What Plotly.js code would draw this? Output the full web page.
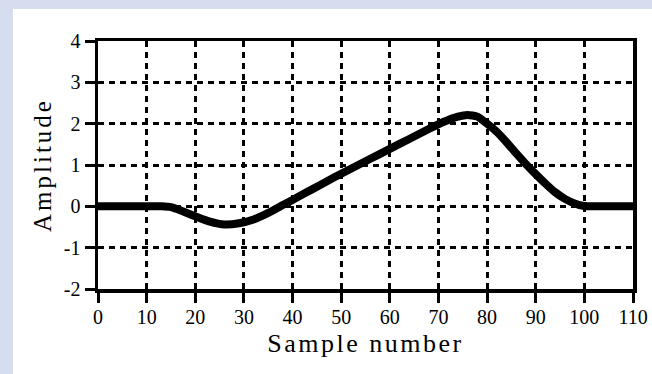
<!DOCTYPE html>
<html>
<head>
<meta charset="utf-8">
<script src="https://cdn.plot.ly/plotly-3.0.1.min.js"></script>
<style>
html,body{margin:0;padding:0;background:#d6ddee;}
#chart{width:652px;height:374px;}
.xtitle{letter-spacing:2.5px;}
.ytitle{letter-spacing:3px;}
</style>
</head>
<body>
<div id="chart"></div>
<script>
// Sample numbers and amplitudes
const sampleNumber = [0, 5, 10, 13, 15, 17, 20, 23, 26, 29, 32, 35, 38, 41, 44, 47, 50, 53, 56, 59, 62, 65, 68, 71, 74, 76, 78, 80, 82, 84, 86, 88, 90, 92, 94, 96, 98, 100, 102, 105, 110];
const amplitude = [0, 0, 0, 0, -0.02, -0.1, -0.24, -0.37, -0.44, -0.41, -0.32, -0.16, 0.03, 0.22, 0.41, 0.6, 0.79, 0.97, 1.15, 1.33, 1.51, 1.69, 1.87, 2.04, 2.17, 2.21, 2.17, 2.0, 1.8, 1.55, 1.28, 1.02, 0.78, 0.55, 0.34, 0.18, 0.07, 0.01, 0, 0, 0];
const xTicks = [0, 10, 20, 30, 40, 50, 60, 70, 80, 90, 100, 110];
const yTicks = [-2, -1, 0, 1, 2, 3, 4];

const font = {family: 'Liberation Serif', color: '#000'};

const trace = {
  x: sampleNumber,
  y: amplitude,
  type: 'scatter',
  mode: 'lines',
  line: {color: '#000', width: 8, shape: 'spline', smoothing: 0.5},
  hoverinfo: 'skip'
};

const axisCommon = {
  showline: true, mirror: true, linecolor: '#000', linewidth: 3.5,
  ticks: 'outside', ticklen: 10, tickwidth: 3, tickcolor: '#000',
  showgrid: true, gridcolor: '#000', gridwidth: 3, griddash: '6px,5px',
  zeroline: false, fixedrange: true, automargin: false,
  tickfont: Object.assign({size: 20}, font)
};

const layout = {
  width: 652, height: 374,
  paper_bgcolor: '#d6ddee',
  plot_bgcolor: '#ffffff',
  margin: {l: 98, r: 19, t: 41, b: 85},
  showlegend: false,
  xaxis: Object.assign({}, axisCommon, {
    range: [0, 110], tickvals: xTicks, ticktext: xTicks.map(String),
    ticklabelstandoff: -3,
    title: {text: 'Sample number', font: Object.assign({size: 26}, font), standoff: 8}
  }),
  yaxis: Object.assign({}, axisCommon, {
    range: [-2, 4], tickvals: yTicks, ticktext: yTicks.map(String),
    ticklabelstandoff: 0,
    title: {text: 'Amplitude', font: Object.assign({size: 25}, font), standoff: 6}
  }),
  shapes: [{
    type: 'rect', xref: 'paper', yref: 'paper', layer: 'below',
    x0: (13 - 98) / 535, x1: (652 - 98) / 535,
    y0: (289 - 374) / 248, y1: (289 - 9) / 248,
    fillcolor: '#ffffff', line: {width: 0}
  }]
};

Plotly.newPlot('chart', [trace], layout, {staticPlot: true, displayModeBar: false});
</script>
</body>
</html>
